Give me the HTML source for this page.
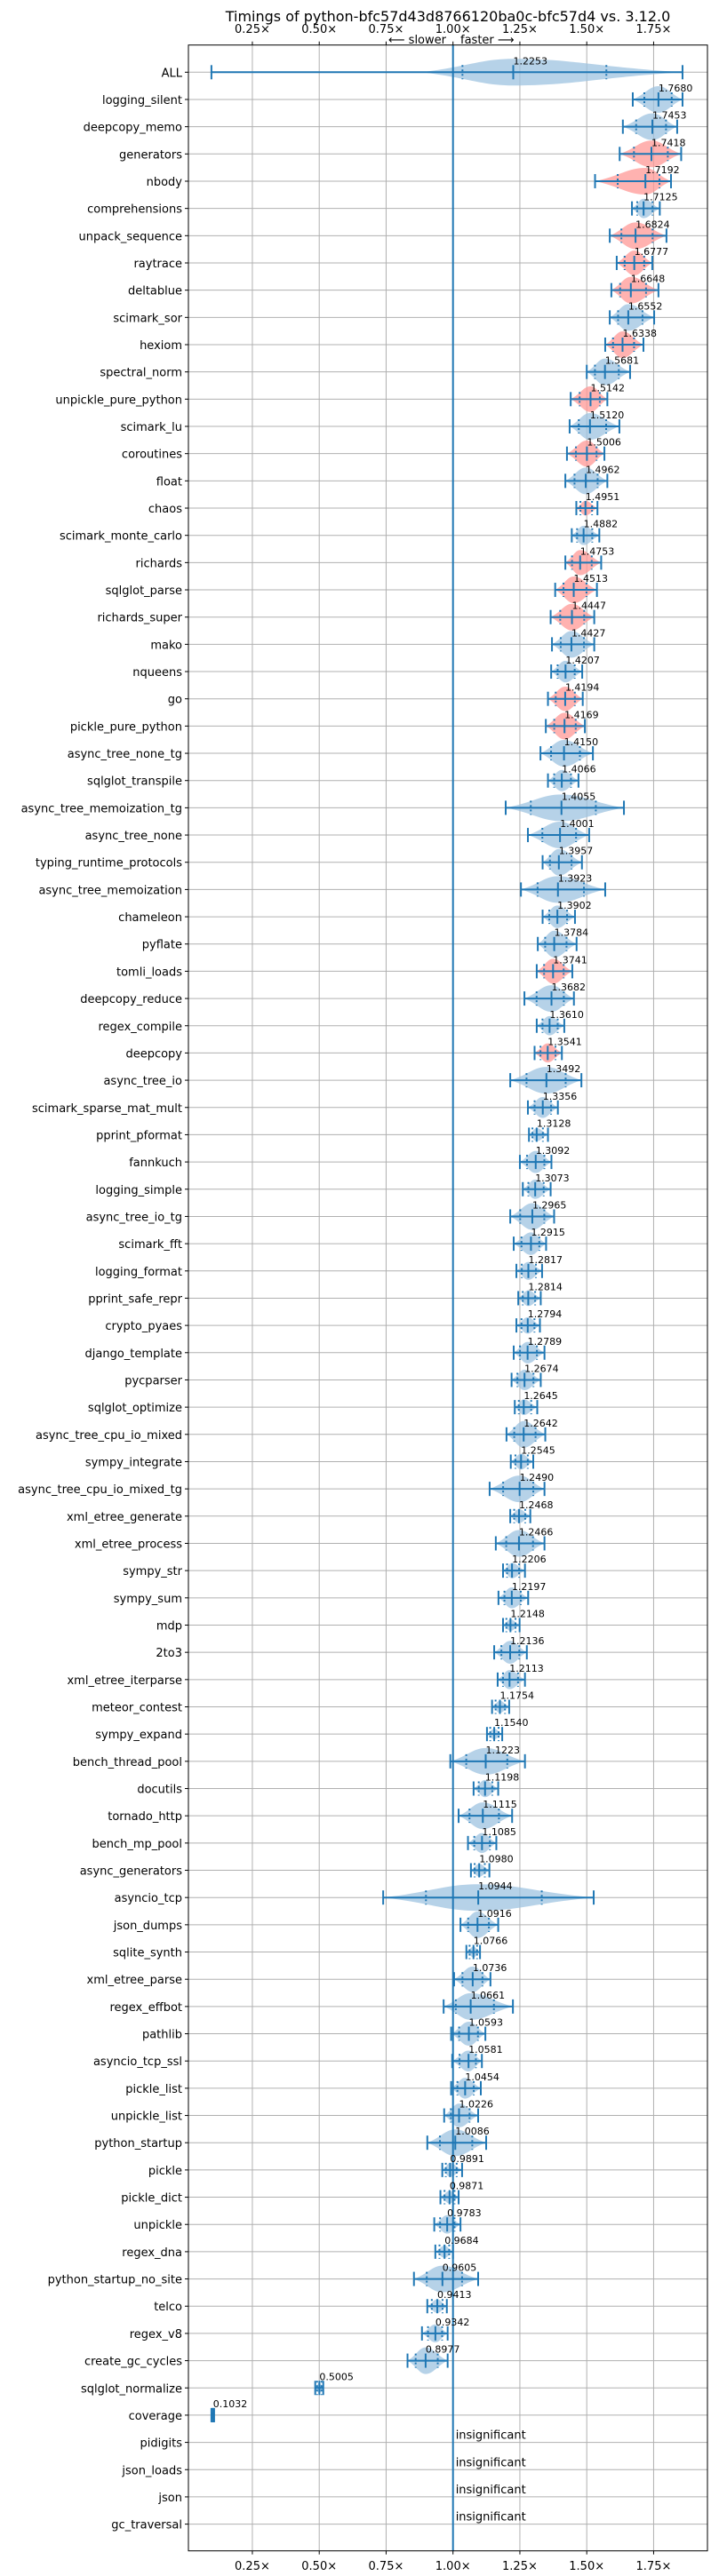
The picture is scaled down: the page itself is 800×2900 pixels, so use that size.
<!DOCTYPE html>
<html><head><meta charset="utf-8"><style>
html,body{margin:0;padding:0;background:#fff;}
svg{display:block;font-family:"DejaVu Sans","Liberation Sans",sans-serif;}
</style></head><body>
<svg id="chart" width="800" height="2900" viewBox="0 0 800 2900" xmlns="http://www.w3.org/2000/svg">
<text x="504" y="24" font-size="16" text-anchor="middle">Timings of python-bfc57d43d8766120ba0c-bfc57d4 vs. 3.12.0</text>
<text x="502" y="49" font-size="13" text-anchor="end">⟵ slower</text>
<text x="518" y="49" font-size="13">faster ⟶</text>
<g id="grid"></g>
<g id="marks"></g>
<g id="labels"></g>
</svg>
<script>
const names = ["ALL","logging_silent","deepcopy_memo","generators","nbody","comprehensions","unpack_sequence","raytrace","deltablue","scimark_sor","hexiom","spectral_norm","unpickle_pure_python","scimark_lu","coroutines","float","chaos","scimark_monte_carlo","richards","sqlglot_parse","richards_super","mako","nqueens","go","pickle_pure_python","async_tree_none_tg","sqlglot_transpile","async_tree_memoization_tg","async_tree_none","typing_runtime_protocols","async_tree_memoization","chameleon","pyflate","tomli_loads","deepcopy_reduce","regex_compile","deepcopy","async_tree_io","scimark_sparse_mat_mult","pprint_pformat","fannkuch","logging_simple","async_tree_io_tg","scimark_fft","logging_format","pprint_safe_repr","crypto_pyaes","django_template","pycparser","sqlglot_optimize","async_tree_cpu_io_mixed","sympy_integrate","async_tree_cpu_io_mixed_tg","xml_etree_generate","xml_etree_process","sympy_str","sympy_sum","mdp","2to3","xml_etree_iterparse","meteor_contest","sympy_expand","bench_thread_pool","docutils","tornado_http","bench_mp_pool","async_generators","asyncio_tcp","json_dumps","sqlite_synth","xml_etree_parse","regex_effbot","pathlib","asyncio_tcp_ssl","pickle_list","unpickle_list","python_startup","pickle","pickle_dict","unpickle","regex_dna","python_startup_no_site","telco","regex_v8","create_gc_cycles","sqlglot_normalize","coverage","pidigits","json_loads","json","gc_traversal"];
const medians = [1.2253,1.7680,1.7453,1.7418,1.7192,1.7125,1.6824,1.6777,1.6648,1.6552,1.6338,1.5681,1.5142,1.5120,1.5006,1.4962,1.4951,1.4882,1.4753,1.4513,1.4447,1.4427,1.4207,1.4194,1.4169,1.4150,1.4066,1.4055,1.4001,1.3957,1.3923,1.3902,1.3784,1.3741,1.3682,1.3610,1.3541,1.3492,1.3356,1.3128,1.3092,1.3073,1.2965,1.2915,1.2817,1.2814,1.2794,1.2789,1.2674,1.2645,1.2642,1.2545,1.2490,1.2468,1.2466,1.2206,1.2197,1.2148,1.2136,1.2113,1.1754,1.1540,1.1223,1.1198,1.1115,1.1085,1.0980,1.0944,1.0916,1.0766,1.0736,1.0661,1.0593,1.0581,1.0454,1.0226,1.0086,0.9891,0.9871,0.9783,0.9684,0.9605,0.9413,0.9342,0.8977,0.5005,0.1032,null,null,null,null];
const mins = [0.097,1.672,1.635,1.623,1.531,1.669,1.586,1.612,1.592,1.586,1.569,1.500,1.440,1.436,1.426,1.420,1.461,1.444,1.420,1.382,1.365,1.370,1.367,1.355,1.347,1.327,1.355,1.197,1.280,1.335,1.254,1.335,1.317,1.313,1.267,1.313,1.305,1.214,1.280,1.284,1.250,1.261,1.214,1.227,1.237,1.244,1.237,1.227,1.219,1.231,1.200,1.216,1.137,1.214,1.160,1.187,1.170,1.187,1.154,1.167,1.146,1.127,0.990,1.077,1.021,1.056,1.067,0.739,1.028,1.050,1.004,0.965,0.993,0.997,0.993,0.967,0.904,0.960,0.953,0.930,0.934,0.854,0.904,0.884,0.830,0.485,0.097,null,null,null,null];
const maxs = [1.858,1.858,1.838,1.853,1.815,1.773,1.798,1.745,1.768,1.752,1.712,1.662,1.577,1.622,1.566,1.577,1.540,1.547,1.554,1.538,1.528,1.528,1.483,1.485,1.493,1.523,1.469,1.639,1.509,1.482,1.569,1.456,1.462,1.446,1.452,1.416,1.407,1.480,1.392,1.355,1.368,1.365,1.378,1.348,1.333,1.328,1.325,1.342,1.328,1.315,1.345,1.300,1.342,1.289,1.342,1.269,1.281,1.249,1.276,1.269,1.210,1.184,1.269,1.169,1.221,1.162,1.136,1.526,1.169,1.101,1.140,1.224,1.121,1.108,1.104,1.094,1.124,1.034,1.021,1.028,1.000,1.094,0.977,0.980,0.980,0.515,0.107,null,null,null,null];
const violinMins = {"ALL":0.88};
const slowerFlags = [0,0,0,1,1,0,1,1,1,0,1,0,1,0,1,0,1,0,1,1,1,0,0,1,1,0,0,0,0,0,0,0,0,1,0,0,1,0,0,0,0,0,0,0,0,0,0,0,0,0,0,0,0,0,0,0,0,0,0,0,0,0,0,0,0,0,0,0,0,0,0,0,0,0,0,0,0,0,0,0,0,0,0,0,0,0,0,0,0,0,0];
const xTicks = [0.25,0.5,0.75,1.0,1.25,1.5,1.75];
const xTickLabels = ["0.25×","0.50×","0.75×","1.00×","1.25×","1.50×","1.75×"];

const NS="http://www.w3.org/2000/svg";
const L=212,R=796,T=50.7,B=2871.7;
function xs(v){return 208.7+301*v;}
function ys(i){return 81.3+i*30.67;}
function mk(parent,tag,attrs){const e=document.createElementNS(NS,tag);for(const k in attrs)e.setAttribute(k,attrs[k]);parent.appendChild(e);return e;}
const grid=document.getElementById('grid'),marks=document.getElementById('marks'),labels=document.getElementById('labels');

xTicks.forEach((t,k)=>{
  const g=mk(grid,'line',{x1:xs(t),x2:xs(t),y1:T,y2:B,stroke:'#b0b0b0','stroke-width':1});
  
  
  [[T,-4,37],[B,4,2893]].forEach(([yy,d,ty])=>{
    const tk=mk(grid,'line',{x1:xs(t),x2:xs(t),y1:yy,y2:yy+d,stroke:'#000','stroke-width':1});
    
    
    const tl=mk(labels,'text',{x:xs(t),y:ty,'font-size':13,'text-anchor':'middle'});
    tl.textContent=xTickLabels[k];
    
    
  });
});
names.forEach((n,i)=>{
  const y=ys(i);
  const g=mk(grid,'line',{x1:L,x2:R,y1:y,y2:y,stroke:'#b0b0b0','stroke-width':1});
  
  
  const tk=mk(grid,'line',{x1:L-4,x2:L,y1:y,y2:y,stroke:'#000','stroke-width':1});
  
  
  const t=mk(labels,'text',{x:L-7,y:y+5,'font-size':13,'text-anchor':'end'});
  t.textContent=n;
  
  
});

const blue='#1f77b4';
names.forEach((n,i)=>{
  const y=ys(i),m=medians[i];
  if(m===null){
    const t=mk(labels,'text',{x:xs(1)+3,y:y-4,'font-size':13});
    t.textContent='insignificant';
    
    
    return;
  }
  const a=xs(mins[i]),b=xs(maxs[i]),c=xs(m);
  const va=(n in violinMins)?xs(violinMins[n]):a;
  const h=Math.min(15,Math.max(6,(b-va)*0.35));
  const fill=slowerFlags[i]?'#ff9896':'#9ec3e0';
  const v=mk(marks,'path',{d:`M${va},${y} C${va+(c-va)*0.5},${y-h*0.4} ${c-(c-va)*0.35},${y-h} ${c},${y-h} C${c+(b-c)*0.35},${y-h} ${b-(b-c)*0.5},${y-h*0.4} ${b},${y} C${b-(b-c)*0.5},${y+h*0.4} ${c+(b-c)*0.35},${y+h} ${c},${y+h} C${c-(c-va)*0.35},${y+h} ${va+(c-va)*0.5},${y+h*0.4} ${va},${y} Z`,fill:fill,'fill-opacity':0.75});
  
  
  const hl=mk(marks,'line',{x1:a,x2:b,y1:y,y2:y,stroke:blue,'stroke-width':2});
  
  
  [a,b,c].forEach(xx=>{
    const cp=mk(marks,'line',{x1:xx,x2:xx,y1:y-8,y2:y+8,stroke:blue,'stroke-width':2});
    
    
  });
  [c-(c-va)*0.55,c+(b-c)*0.55].forEach(xx=>{
    const q=mk(marks,'line',{x1:xx,x2:xx,y1:y-8,y2:y+8,stroke:blue,'stroke-width':2,'stroke-dasharray':'2,3'});
    
    
  });
  const t=mk(labels,'text',{x:c,y:y-9,'font-size':11});
  t.textContent=m.toFixed(4);
  
  
});
const vl=mk(marks,'line',{x1:xs(1),x2:xs(1),y1:T,y2:B,stroke:blue,'stroke-width':2});


const fr=mk(marks,'rect',{x:L,y:T,width:R-L,height:B-T,fill:'none',stroke:'#000','stroke-width':1});


</script>
</body></html>
